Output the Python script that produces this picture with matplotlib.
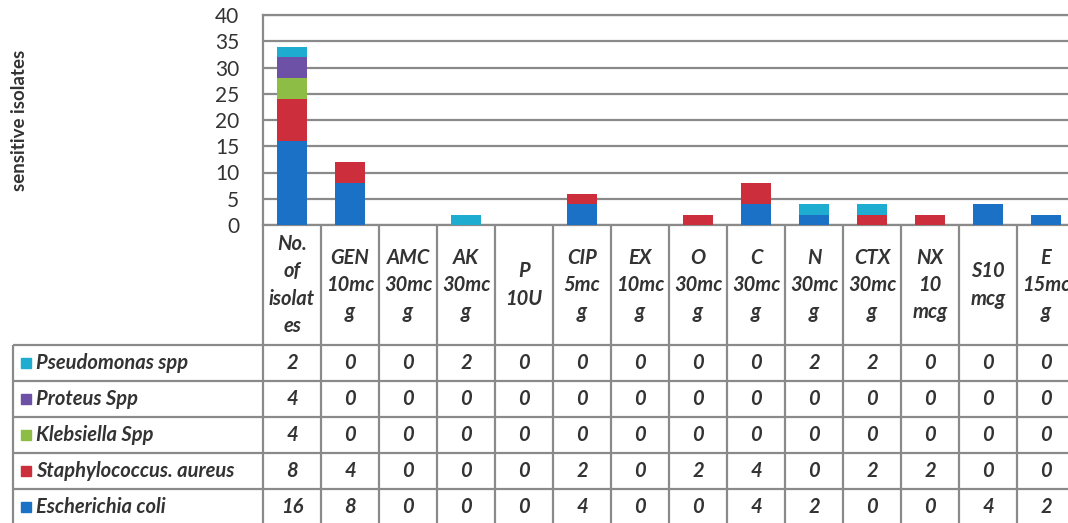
import matplotlib
matplotlib.use("Agg")
import matplotlib.pyplot as plt
import numpy as np

# ---------------- data ----------------
categories = ["No.\nof\nisolat\nes", "GEN\n10mc\ng", "AMC\n30mc\ng", "AK\n30mc\ng", "P\n10U",
              "CIP\n5mc\ng", "EX\n10mc\ng", "O\n30mc\ng", "C\n30mc\ng", "N\n30mc\ng",
              "CTX\n30mc\ng", "NX\n10\nmcg", "S10\nmcg", "E\n15mc\ng"]
species = ["Pseudomonas spp", "Proteus Spp", "Klebsiella Spp",
           "Staphylococcus. aureus", "Escherichia coli"]
pseudomonas = [2, 0, 0, 2, 0, 0, 0, 0, 0, 2, 2, 0, 0, 0]
proteus     = [4, 0, 0, 0, 0, 0, 0, 0, 0, 0, 0, 0, 0, 0]
klebsiella  = [4, 0, 0, 0, 0, 0, 0, 0, 0, 0, 0, 0, 0, 0]
staph       = [8, 4, 0, 0, 0, 2, 0, 2, 4, 0, 2, 2, 0, 0]
ecoli       = [16, 8, 0, 0, 0, 4, 0, 0, 4, 2, 0, 0, 4, 2]
yticks = [0, 5, 10, 15, 20, 25, 30, 35, 40]
ylabel = "sensitive isolates"

table_rows = [pseudomonas, proteus, klebsiella, staph, ecoli]   # top -> bottom in table
colors = ["#1eacd0", "#6d51a6", "#8dbd44", "#cc2f3b", "#1a71c6"]

# ---------------- layout ----------------
plt.rcParams["font.family"] = ["Lato", "DejaVu Sans"]
W, H = 1068, 523
fig = plt.figure(figsize=(W / 100, H / 100), dpi=100)
fig.patch.set_facecolor("white")

px_left, col_w = 263, 58
n = len(categories)
ax_top, ax_bot = 15, 225
header_h = 120.0
row_h = 36.0
grid_c = "#8a8a8a"
text_c = "#333333"

ax = fig.add_axes([px_left / W, 1 - ax_bot / H, n * col_w / W, (ax_bot - ax_top) / H])
x = np.arange(n)
bottom = np.zeros(n)
for vals, col in zip(table_rows[::-1], colors[::-1]):
    v = np.array(vals, dtype=float)
    ax.bar(x, v, 0.52, bottom=bottom, color=col, zorder=3, linewidth=0)
    bottom += v
ax.set_xlim(-0.5, n - 0.5)
ax.set_ylim(0, 40)
ax.set_yticks(yticks)
ax.set_xticks([])
ax.yaxis.grid(True, color=grid_c, lw=1.6)
ax.set_axisbelow(True)
ax.tick_params(axis="y", length=0, pad=17, labelsize=15, labelcolor=text_c)
for s in ax.spines.values():
    s.set_color(grid_c)
    s.set_linewidth(1.6)
fig.text(20 / W, 1 - 120 / H, ylabel, rotation=90, ha="center", va="center",
         fontsize=13.5, fontweight="bold", color=text_c)

# ---------------- data table ----------------
tot_h = header_h + row_h * len(species)
tax = fig.add_axes([px_left / W, 1 - (ax_bot + tot_h) / H, n * col_w / W, tot_h / H])
hu = header_h / row_h
tax.set_xlim(-0.5, n - 0.5)
tax.set_ylim(hu + len(species), 0)
tax.axis("off")

def px2x(px):
    return -0.5 + (px - px_left) / col_w

lab_left = px2x(13)
lw_t = 1.6
# vertical lines
tax.vlines(np.arange(n + 1) - 0.5, 0, hu + len(species), color=grid_c, lw=lw_t, clip_on=False)
tax.vlines([lab_left], hu, hu + len(species), color=grid_c, lw=lw_t, clip_on=False)
# horizontal lines
tax.hlines(hu + np.arange(len(species) + 1), lab_left, n - 0.5, color=grid_c, lw=lw_t, clip_on=False)

font_kw = dict(fontsize=14.5, fontstyle="italic", fontweight="bold", color=text_c)
for i, lab in enumerate(categories):
    tax.text(i, hu / 2, lab, ha="center", va="center", linespacing=1.45, clip_on=False, **font_kw)

for r, (name, vals, col) in enumerate(zip(species, table_rows, colors)):
    yc = hu + r + 0.5
    tax.plot([px2x(26)], [yc], marker="s", ms=6.5, color=col, clip_on=False, linestyle="none")
    tax.text(px2x(36), yc, name, ha="left", va="center", clip_on=False, **font_kw)
    for i, v in enumerate(vals):
        tax.text(i, yc, str(v), ha="center", va="center", clip_on=False, **font_kw)

fig.savefig("out.png", dpi=100, facecolor="white")
